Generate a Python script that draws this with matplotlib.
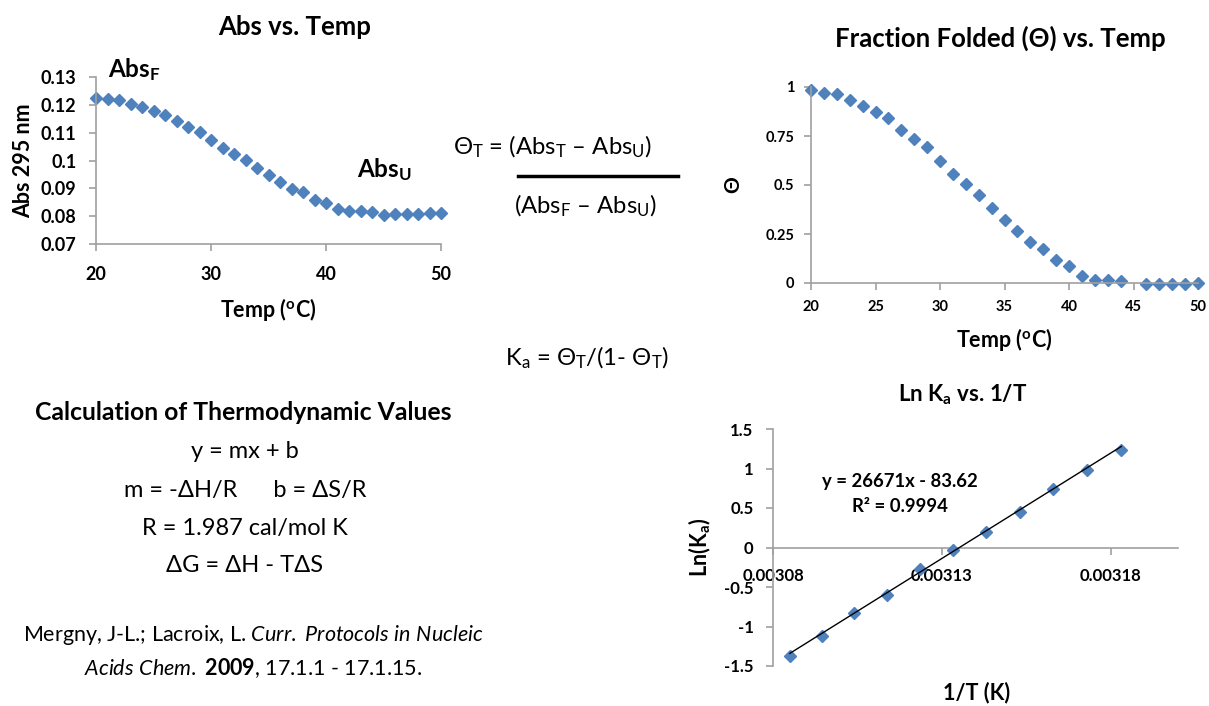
import numpy as np
import matplotlib
matplotlib.use("Agg")
import matplotlib.pyplot as plt

plt.rcParams['font.family'] = ['Lato', 'Noto Sans', 'DejaVu Sans']
plt.rcParams['mathtext.fontset'] = 'custom'
plt.rcParams['mathtext.rm'] = 'Lato'
plt.rcParams['mathtext.it'] = 'Lato:italic'
plt.rcParams['mathtext.bf'] = 'Lato:bold'

# melting data
temp = [20, 21, 22, 23, 24, 25, 26, 27, 28, 29, 30, 31, 32, 33, 34, 35,
        36, 37, 38, 39, 40, 41, 42, 43, 44, 45, 46, 47, 48, 49, 50]
absorb = [0.1226, 0.1220, 0.1219, 0.1203, 0.1192, 0.1178, 0.1163, 0.1141,
          0.1122, 0.1102, 0.1074, 0.1045, 0.1023, 0.1001, 0.0972, 0.0948,
          0.0924, 0.0898, 0.0886, 0.0859, 0.0849, 0.0826, 0.0820, 0.0819,
          0.0815, 0.0805, 0.0809, 0.0809, 0.0809, 0.0810, 0.0813]
theta = [0.983, 0.969, 0.963, 0.932, 0.902, 0.871, 0.841, 0.783, 0.736,
         0.692, 0.622, 0.554, 0.503, 0.447, 0.381, 0.322, 0.264, 0.208,
         0.175, 0.117, 0.088, 0.037, 0.017, 0.017, 0.010, np.nan, -0.003,
         -0.003, -0.003, -0.003, 0.002]

# van't Hoff data
inv_t = [0.0030850, 0.0030945, 0.0031041, 0.0031138, 0.0031235, 0.0031333,
         0.0031432, 0.0031531, 0.0031631, 0.0031731, 0.0031832]
ln_ka = [-1.374, -1.121, -0.834, -0.598, -0.278, -0.034, 0.202, 0.447,
         0.742, 0.986, 1.231]
slope = 26671
intercept = -83.62
r2 = 0.9994

W, H = 1209, 706
BLUE = '#4F81BD'
GRAY = '#A0A0A0'

fig = plt.figure(figsize=(W / 100, H / 100), dpi=100)


def rect(l, t, r, b):
    return [l / W, 1 - b / H, (r - l) / W, (b - t) / H]


def pos(x, y):
    return x / W, 1 - y / H


def style(ax, size, pad):
    for s in ['top', 'right']:
        ax.spines[s].set_visible(False)
    for s in ['left', 'bottom']:
        ax.spines[s].set_color(GRAY)
        ax.spines[s].set_linewidth(1.2)
    ax.tick_params(direction='out', length=5, width=1.2, color=GRAY,
                   labelsize=size, pad=pad)
    for lab in ax.get_xticklabels() + ax.get_yticklabels():
        lab.set_fontweight('bold')


# Abs vs. Temp
ax1 = fig.add_axes(rect(96, 77, 441, 244))
ax1.plot(temp, absorb, 'D', color=BLUE, ms=6.4, clip_on=False)
ax1.set_xlim(20, 50)
ax1.set_ylim(0.07, 0.13)
ax1.set_xticks([20, 30, 40, 50])
ax1.set_yticks([0.07, 0.08, 0.09, 0.1, 0.11, 0.12, 0.13])
ax1.set_yticklabels(['0.07', '0.08', '0.09', '0.1', '0.11', '0.12', '0.13'])
style(ax1, 13, 9)
ax1.tick_params(axis='x', pad=11)
fig.text(*pos(295, 27), 'Abs vs. Temp', fontsize=18.5, fontweight='bold',
         ha='center', va='center')
ax1.set_xlabel('Temp ($^\\mathbf{o}$C)', fontsize=15.5, fontweight='bold', labelpad=9)
ax1.set_ylabel('Abs 295 nm', fontsize=15.5, fontweight='bold', labelpad=5)
fig.text(*pos(108, 70), 'Abs$_\\mathbf{F}$', fontsize=17.5, fontweight='bold',
         va='center', ha='left')
fig.text(*pos(357, 170), 'Abs$_\\mathbf{U}$', fontsize=17.5, fontweight='bold',
         va='center', ha='left')

# Fraction folded vs. Temp
ax2 = fig.add_axes(rect(811, 87, 1198, 283))
ax2.plot(temp, theta, 'D', color=BLUE, ms=6.4, clip_on=False)
ax2.set_xlim(20, 50)
ax2.set_ylim(0, 1)
ax2.set_xticks([20, 25, 30, 35, 40, 45, 50])
ax2.set_yticks([0, 0.25, 0.5, 0.75, 1])
ax2.set_yticklabels(['0', '0.25', '0.5', '0.75', '1'])
style(ax2, 10.5, 7)
ax2.set_xlabel('Temp ($^\\mathbf{o}$C)', fontsize=15.5, fontweight='bold', labelpad=9)
ax2.set_ylabel('Θ', fontsize=15, fontweight='bold', labelpad=16)
fig.text(*pos(1000, 38), 'Fraction Folded (Θ) vs. Temp', fontsize=18.5,
         fontweight='bold', ha='center', va='center')

# Ln Ka vs. 1/T
ax3 = fig.add_axes(rect(773, 429, 1178, 666))
ax3.plot(inv_t, ln_ka, 'D', color=BLUE, ms=6.4, clip_on=False, zorder=3)
fit_x = np.array([inv_t[0], inv_t[-1]])
ax3.plot(fit_x, slope * fit_x + intercept, color='black', lw=1, zorder=4)
ax3.set_xlim(0.00308, 0.0032)
ax3.set_ylim(-1.5, 1.5)
ax3.set_xticks([0.00308, 0.00313, 0.00318])
ax3.set_xticklabels(['0.00308', '0.00313', '0.00318'])
ax3.set_yticks([-1.5, -1, -0.5, 0, 0.5, 1, 1.5])
ax3.set_yticklabels(['-1.5', '-1', '-0.5', '0', '0.5', '1', '1.5'])
ax3.spines['bottom'].set_position(('data', 0))
style(ax3, 12, 9)
ax3.tick_params(axis='x', pad=10)
ax3.set_ylabel('Ln(K$_\\mathbf{a}$)', fontsize=15.5, fontweight='bold', labelpad=8)
fig.text(*pos(977, 693), '1/T (K)', fontsize=15.5, fontweight='bold',
         ha='center', va='center')
fig.text(*pos(963, 395), 'Ln K$_\\mathbf{a}$ vs. 1/T', fontsize=16,
         fontweight='bold', ha='center', va='center')
fig.text(*pos(900, 482), f'y = {slope}x - {abs(intercept)}', fontsize=13.3,
         fontweight='bold', ha='center', va='center')
fig.text(*pos(900, 507), f'R² = {r2}', fontsize=13.3,
         fontweight='bold', ha='center', va='center')

# formulas in the middle
fig.text(*pos(453, 147), 'Θ$_\\mathrm{T}$ = (Abs$_\\mathrm{T}$ – Abs$_\\mathrm{U}$)',
         fontsize=17.2, ha='left', va='center')
fig.add_artist(plt.Line2D([518 / W, 678 / W], [1 - 176 / H, 1 - 176 / H],
                          color='black', lw=2.5))
fig.text(*pos(585, 206), '(Abs$_\\mathrm{F}$ – Abs$_\\mathrm{U}$)',
         fontsize=17.2, ha='center', va='center')
fig.text(*pos(587, 358), 'K$_\\mathrm{a}$ = Θ$_\\mathrm{T}$/(1- Θ$_\\mathrm{T}$)',
         fontsize=17.2, ha='center', va='center')

# thermodynamics notes
fig.text(*pos(243, 412), 'Calculation of Thermodynamic Values', fontsize=17.8,
         fontweight='bold', ha='center', va='center')
notes = ['y = mx + b', 'm = -ΔH/R      b = ΔS/R', 'R = 1.987 cal/mol K',
         'ΔG = ΔH - TΔS']
for i, line in enumerate(notes):
    fig.text(*pos(245, 452 + 38 * i), line, fontsize=17, ha='center', va='center')
fig.text(*pos(253, 635),
         'Mergny, J-L.; Lacroix, L. $\\mathit{Curr.\\ Protocols\\ in\\ Nucleic}$',
         fontsize=15.5, ha='center', va='center')
fig.text(*pos(253, 668),
         '$\\mathit{Acids\\ Chem.}$ $\\mathbf{2009}$, 17.1.1 - 17.1.15.',
         fontsize=15.5, ha='center', va='center')

fig.savefig('out.png', dpi=100)
